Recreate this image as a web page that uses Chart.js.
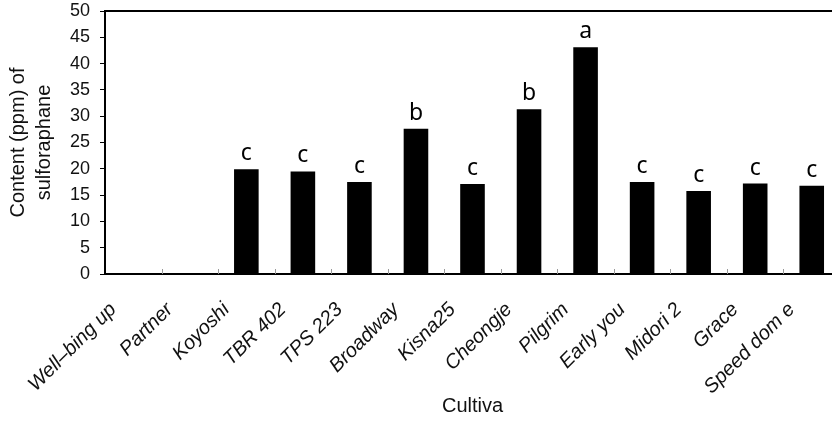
<!DOCTYPE html>
<html>
<head>
<meta charset="utf-8">
<script src="https://cdn.jsdelivr.net/npm/chart.js@4"></script>
<style>
  html, body { margin: 0; padding: 0; background: #fff; overflow: hidden; }
  #wrap { width: 842px; height: 428px; position: relative; }
</style>
</head>
<body>
<div id="wrap"><canvas id="chart"></canvas></div>
<script>
const cultivars = ['Well–bing up', 'Partner', 'Koyoshi', 'TBR 402', 'TPS 223', 'Broadway', 'Kisna25',
  'Cheongje', 'Pilgrim', 'Early you', 'Midori 2', 'Grace', 'Speed dom e'];
const sulforaphane = [null, null, 19.9, 19.5, 17.5, 27.6, 17.1, 31.3, 43.1, 17.5, 15.8, 17.2, 16.8];
const groups = ['', '', 'c', 'c', 'c', 'b', 'c', 'b', 'a', 'c', 'c', 'c', 'c'];
const yTicks = [0, 5, 10, 15, 20, 25, 30, 35, 40, 45, 50];

// frame on top/right, small inner ticks on x axis, letters above bars
const extras = {
  id: 'extras',
  afterDatasetsDraw(chart) {
    const { ctx, chartArea: a, scales: { x } } = chart;
    ctx.save();
    ctx.strokeStyle = '#000';
    ctx.lineWidth = 2;
    ctx.beginPath();
    ctx.moveTo(a.left, a.top);
    ctx.lineTo(a.right, a.top);
    ctx.lineTo(a.right, a.bottom);
    ctx.stroke();

    ctx.strokeStyle = '#999';
    ctx.lineWidth = 1;
    for (let i = 1; i < cultivars.length; i++) {
      const px = Math.round((x.getPixelForValue(i - 1) + x.getPixelForValue(i)) / 2) + 0.5;
      ctx.beginPath();
      ctx.moveTo(px, a.bottom);
      ctx.lineTo(px, a.bottom - 5);
      ctx.stroke();
    }

    const meta = chart.getDatasetMeta(0);
    ctx.fillStyle = '#000';
    ctx.font = '23px "Noto Sans"';
    ctx.textAlign = 'center';
    ctx.textBaseline = 'alphabetic';
    meta.data.forEach((bar, i) => {
      if (!groups[i] || sulforaphane[i] == null) return;
      ctx.fillText(groups[i], bar.x, bar.y - 9);
    });
    ctx.restore();
  }
};

new Chart(document.getElementById('chart'), {
  type: 'bar',
  data: {
    labels: cultivars,
    datasets: [{
      data: sulforaphane,
      backgroundColor: '#000',
      borderWidth: 0,
      categoryPercentage: 1,
      barPercentage: 0.435
    }]
  },
  options: {
    responsive: true,
    maintainAspectRatio: false,
    animation: false,
    layout: { padding: { top: 11, right: 2, left: 0, bottom: 0 } },
    plugins: { legend: { display: false }, tooltip: { enabled: false } },
    scales: {
      x: {
        grid: { display: false, drawTicks: false },
        border: { display: true, color: '#000', width: 2 },
        ticks: {
          color: '#111',
          font: { family: 'Liberation Sans', size: 20, style: 'italic' },
          minRotation: 45,
          maxRotation: 45,
          autoSkip: false,
          padding: 24,
          labelOffset: -20
        },
        title: {
          display: true,
          text: 'Cultiva',
          color: '#111',
          font: { family: 'Liberation Sans', size: 20 },
          padding: { top: 0, bottom: 10 }
        },
        afterFit(scale) {
          scale.height = 154;
          scale.paddingLeft = 0;
          scale.paddingRight = 0;
        }
      },
      y: {
        min: 0,
        max: 50,
        afterBuildTicks(scale) { scale.ticks = yTicks.map(v => ({ value: v })); },
        grid: { display: true, drawOnChartArea: false, drawTicks: true, tickLength: 5, color: '#000' },
        border: { display: true, color: '#000', width: 2 },
        ticks: {
          color: '#111',
          font: { family: 'Liberation Sans', size: 18 },
          padding: 10
        },
        title: {
          display: true,
          text: ['Content (ppm) of', 'sulforaphane'],
          color: '#111',
          font: { family: 'Liberation Sans', size: 20, lineHeight: 1.3 },
          padding: { top: 5, bottom: 0 }
        },
        afterFit(scale) {
          scale.width = 105;
          scale.paddingTop = 0;
          scale.paddingBottom = 0;
        }
      }
    }
  },
  plugins: [extras]
});
</script>
</body>
</html>
